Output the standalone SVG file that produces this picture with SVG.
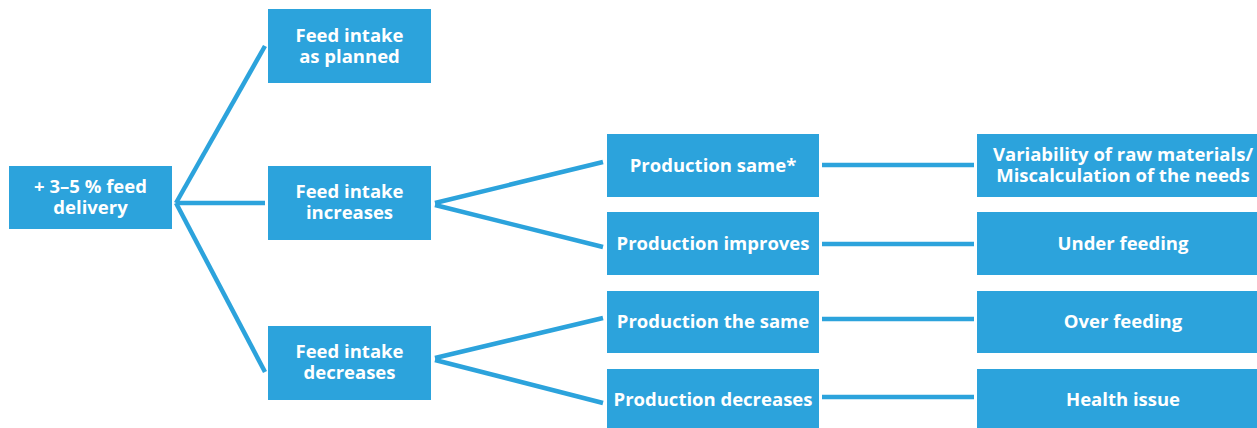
<svg xmlns="http://www.w3.org/2000/svg" width="1257" height="428" viewBox="0 0 1257 428">
<style>
.box{fill:#2ca3dc}
.t{fill:#ffffff;font-family:"Open Sans","Noto Sans",sans-serif;font-weight:700;font-size:18.5px;text-anchor:middle}
.c{stroke:#2ca3dc;stroke-width:4.5;fill:none;stroke-linecap:butt}
</style>
<rect width="1257" height="428" fill="#ffffff"/>
<g id="connectors">
<line class="c" x1="176" y1="203" x2="265" y2="46"/>
<line class="c" x1="176" y1="203" x2="265" y2="203"/>
<line class="c" x1="176" y1="203" x2="265" y2="372"/>
<line class="c" x1="435" y1="203" x2="603" y2="162"/>
<line class="c" x1="435" y1="205" x2="603" y2="247"/>
<line class="c" x1="435" y1="358" x2="603" y2="318"/>
<line class="c" x1="435" y1="360" x2="603" y2="403"/>
<line class="c" x1="822" y1="165" x2="974" y2="165"/>
<line class="c" x1="822" y1="244" x2="974" y2="244"/>
<line class="c" x1="822" y1="319" x2="974" y2="319"/>
<line class="c" x1="822" y1="397" x2="974" y2="397"/>
</g>
<g id="root"><rect class="box" x="9" y="166" width="163" height="63"/><text class="t" x="90.5" y="193">+ 3–5 % feed</text><text class="t" x="90.5" y="214">delivery</text></g>
<g id="planned"><rect class="box" x="268" y="9" width="163" height="74"/><text class="t" x="349.5" y="42">Feed intake</text><text class="t" x="349.5" y="63">as planned</text></g>
<g id="increases"><rect class="box" x="268" y="166" width="163" height="74"/><text class="t" x="349.5" y="198">Feed intake</text><text class="t" x="349.5" y="219">increases</text></g>
<g id="decreases"><rect class="box" x="268" y="326" width="163" height="74"/><text class="t" x="349.5" y="358">Feed intake</text><text class="t" x="349.5" y="379">decreases</text></g>
<g id="p1"><rect class="box" x="607" y="134" width="212" height="63"/><text class="t" x="713" y="172">Production same*</text></g>
<g id="p2"><rect class="box" x="607" y="212" width="212" height="63"/><text class="t" x="713" y="250">Production improves</text></g>
<g id="p3"><rect class="box" x="607" y="291" width="212" height="62"/><text class="t" x="713" y="328">Production the same</text></g>
<g id="p4"><rect class="box" x="607" y="369" width="212" height="62"/><text class="t" x="713" y="406">Production decreases</text></g>
<g id="r1"><rect class="box" x="977" y="134" width="292" height="63"/><text class="t" x="1123" y="161">Variability of raw materials/</text><text class="t" x="1123" y="182">Miscalculation of the needs</text></g>
<g id="r2"><rect class="box" x="977" y="212" width="292" height="63"/><text class="t" x="1123" y="250">Under feeding</text></g>
<g id="r3"><rect class="box" x="977" y="291" width="292" height="62"/><text class="t" x="1123" y="328">Over feeding</text></g>
<g id="r4"><rect class="box" x="977" y="369" width="292" height="62"/><text class="t" x="1123" y="406">Health issue</text></g>
</svg>
